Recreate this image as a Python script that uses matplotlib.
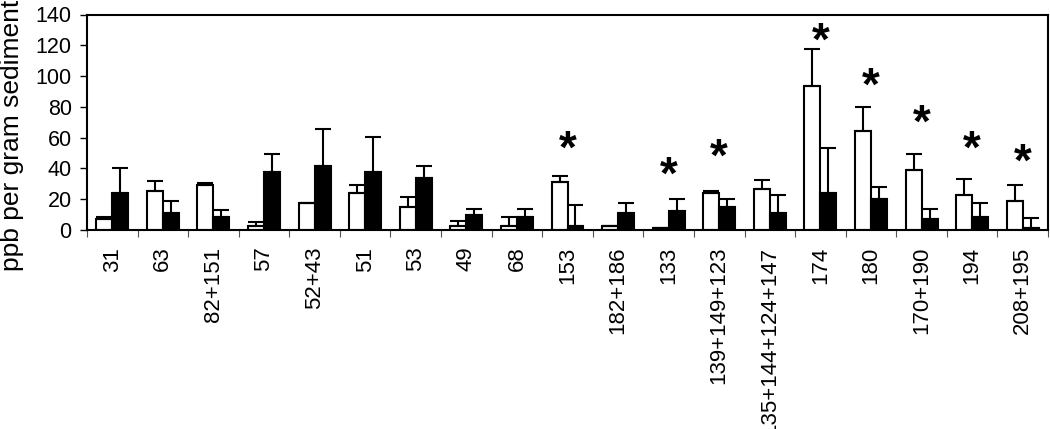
import matplotlib
matplotlib.use("Agg")
import matplotlib.pyplot as plt
import numpy as np

labels = ["31", "63", "82+151", "57", "52+43", "51", "53", "49", "68", "153",
          "182+186", "133", "139+149+123", "135+144+124+147", "174", "180",
          "170+190", "194", "208+195"]
white = [7.0, 25.5, 29.5, 2.8, 17.5, 24.2, 14.9, 2.8, 2.8, 31.0,
         2.5, 1.5, 24.2, 26.8, 93.3, 64.3, 39.0, 22.9, 18.8]
white_err = [1.2, 6.5, 1.1, 2.6, 0.0, 5.2, 6.5, 3.0, 5.4, 3.8,
             0.0, 0.0, 1.3, 5.5, 24.2, 15.8, 10.4, 10.4, 10.6]
black = [24.2, 10.8, 8.2, 37.7, 41.8, 37.7, 33.5, 9.7, 8.4, 2.8,
         11.3, 12.3, 15.2, 11.3, 24.2, 20.3, 7.1, 8.2, 1.5]
black_err = [15.8, 7.8, 5.0, 11.4, 23.8, 22.5, 8.1, 3.7, 5.0, 13.2,
             6.2, 7.8, 4.9, 11.4, 29.3, 7.6, 6.3, 9.5, 6.5]
star_idx = [9, 11, 12, 14, 15, 16, 17, 18]
star_y = [56.3, 39.4, 50.9, 126.0, 97.0, 73.2, 55.8, 47.6]

plt.rcParams['font.family'] = ['Liberation Sans', 'DejaVu Sans']

fig = plt.figure(figsize=(10.5, 4.29), dpi=100)
ax = fig.add_axes([87/1050, 1-230/429, 961/1050, 215.5/429])

n = len(labels)
x = np.arange(n)
w = 0.316
zeros = np.zeros(n)

ax.bar(x - w/2, white, width=w, color='white', edgecolor='black', linewidth=1.5, zorder=2)
ax.bar(x + w/2, black, width=w, color='black', edgecolor='black', linewidth=1.5, zorder=2)
ax.errorbar(x - w/2, white, yerr=[zeros, white_err], fmt='none', ecolor='black',
            elinewidth=1.5, capsize=5.8, capthick=1.5, zorder=3)
ax.errorbar(x + w/2, black, yerr=[zeros, black_err], fmt='none', ecolor='black',
            elinewidth=1.5, capsize=5.8, capthick=1.5, zorder=3)

for i, yv in zip(star_idx, star_y):
    ax.text(x[i], yv - 4.5, '*', ha='center', va='center', fontsize=33, fontweight='bold')

ax.set_xlim(-0.5, n - 0.5)
ax.set_ylim(0, 140)
ax.set_yticks(np.arange(0, 141, 20))
ax.tick_params(axis='y', length=5, width=1, pad=6, labelsize=15.5, direction='out')

ax.set_xticks(np.arange(-0.5, n, 1.0))
ax.set_xticklabels([])
ax.tick_params(axis='x', which='major', length=5, width=0.8, direction='out', color='#555555')
ax.set_xticks(x, minor=True)
ax.set_xticklabels(labels, minor=True, rotation=90, fontsize=16)
ax.tick_params(axis='x', which='minor', length=0, pad=12)

for s in ax.spines.values():
    s.set_linewidth(1.5)

ax.set_ylabel('ppb per gram sediment', fontsize=19)
ax.yaxis.set_label_coords(-0.066, 0.44)

fig.savefig('out.png', dpi=100)
